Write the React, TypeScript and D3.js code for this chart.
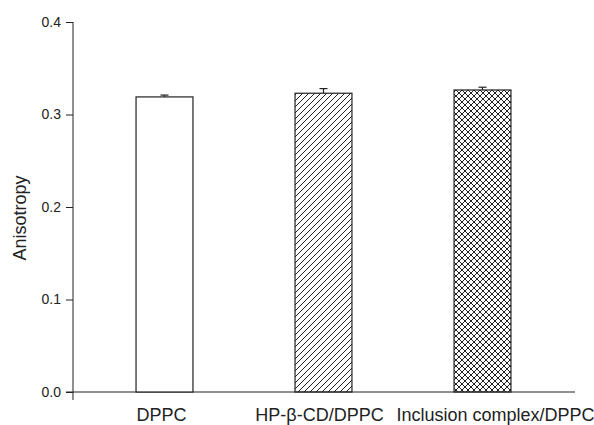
import React, { useEffect, useRef } from "react";
import * as d3 from "d3";

const categories = ["DPPC", "HP-β-CD/DPPC", "Inclusion complex/DPPC"];
const anisotropy = [0.319, 0.323, 0.3265];
const errors = [0.002, 0.005, 0.003];
const fills = ["none", "hatch", "cross"];
const yTicks = [0.0, 0.1, 0.2, 0.3, 0.4];

const App = () => {
  const svgRef = useRef(null);

  useEffect(() => {
    const width = 594,
      height = 425;
    const svg = d3.select(svgRef.current);
    svg.selectAll("*").remove();
    svg.attr("width", width).attr("height", height);

    const font = "'Liberation Sans', Arial, sans-serif";
    const ink = "#222";

    const defs = svg.append("defs");
    const hatch = defs
      .append("pattern")
      .attr("id", "hatch")
      .attr("patternUnits", "userSpaceOnUse")
      .attr("width", 6)
      .attr("height", 6);
    hatch
      .append("path")
      .attr("d", "M-1,1 L1,-1 M0,6 L6,0 M5,7 L7,5")
      .attr("stroke", ink)
      .attr("stroke-width", 1);

    const cross = defs
      .append("pattern")
      .attr("id", "cross")
      .attr("patternUnits", "userSpaceOnUse")
      .attr("width", 6)
      .attr("height", 6);
    cross
      .append("path")
      .attr("d", "M-1,1 L1,-1 M0,6 L6,0 M5,7 L7,5 M-1,5 L1,7 M0,0 L6,6 M5,-1 L7,1")
      .attr("stroke", ink)
      .attr("stroke-width", 1);

    const x = d3
      .scaleBand()
      .domain(categories)
      .range([85, 562])
      .paddingInner(0.642)
      .paddingOuter(0.321);
    const y = d3.scaleLinear([0, 0.4], [392, 22]);

    // y axis
    const yAxis = svg
      .append("g")
      .attr("transform", "translate(73,0)")
      .call(
        d3
          .axisLeft(y)
          .tickValues(yTicks)
          .tickSize(7)
          .tickPadding(5)
          .tickFormat(d3.format(".1f"))
      );
    yAxis.select(".domain").attr("d", "M0,22 V400").attr("stroke", ink);
    yAxis.selectAll(".tick line").attr("stroke", ink);
    yAxis
      .selectAll(".tick text")
      .attr("font-family", font)
      .attr("font-size", 14)
      .attr("fill", ink);

    // x axis line
    svg
      .append("line")
      .attr("x1", 66)
      .attr("x2", 575)
      .attr("y1", y(0))
      .attr("y2", y(0))
      .attr("stroke", ink)
      .attr("stroke-width", 1.2);

    // error bars (only the upper half shows above the bar)
    const err = svg.append("g").attr("stroke", ink).attr("stroke-width", 1.2);
    categories.forEach((c, i) => {
      const cx = x(c) + x.bandwidth() / 2;
      const top = y(anisotropy[i] + errors[i]);
      err.append("line").attr("x1", cx).attr("x2", cx).attr("y1", top).attr("y2", y(anisotropy[i]));
      err.append("line").attr("x1", cx - 4).attr("x2", cx + 4).attr("y1", top).attr("y2", top);
    });

    // bars
    svg
      .selectAll("rect.bar")
      .data(categories)
      .join("rect")
      .attr("class", "bar")
      .attr("x", (d) => x(d))
      .attr("width", x.bandwidth())
      .attr("y", (d, i) => y(anisotropy[i]))
      .attr("height", (d, i) => y(0) - y(anisotropy[i]))
      .attr("fill", (d, i) => (fills[i] === "none" ? "#fff" : `url(#${fills[i]})`))
      .attr("stroke", ink)
      .attr("stroke-width", 1.2);

    // category labels
    const labelDx = [-3, -4, 13];
    svg
      .selectAll("text.cat")
      .data(categories)
      .join("text")
      .attr("class", "cat")
      .attr("x", (d, i) => x(d) + x.bandwidth() / 2 + labelDx[i])
      .attr("y", 421)
      .attr("text-anchor", "middle")
      .attr("font-family", font)
      .attr("font-size", 18)
      .attr("fill", ink)
      .text((d) => d);

    // y label
    svg
      .append("text")
      .attr("transform", "translate(26,218) rotate(-90)")
      .attr("text-anchor", "middle")
      .attr("font-family", font)
      .attr("font-size", 18)
      .attr("fill", ink)
      .text("Anisotropy");
  }, []);

  return <svg ref={svgRef} style={{ position: "absolute", left: 0, top: 0 }}></svg>;
};

export default App;
